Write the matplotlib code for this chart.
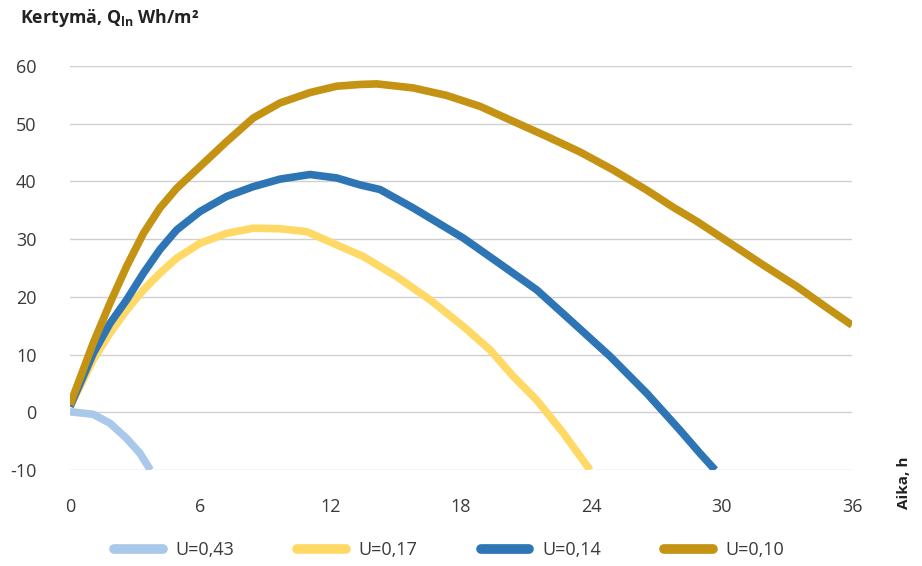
import numpy as np
import matplotlib.pyplot as plt
from matplotlib.lines import Line2D

plt.rcParams['font.family'] = ['Open Sans', 'DejaVu Sans']
plt.rcParams['mathtext.fontset'] = 'custom'
plt.rcParams['mathtext.bf'] = 'Open Sans:bold'
plt.rcParams['mathtext.rm'] = 'Open Sans'
plt.rcParams['axes.unicode_minus'] = False

# U=0,43
x_043 = [0, 1.07, 1.84, 2.6, 3.22, 3.7]
y_043 = [0.1, -0.35, -1.9, -4.5, -7.1, -10]

# U=0,17
x_017 = [0, 1.07, 1.84, 2.61, 3.38, 4.14, 4.91, 5.99, 7.21, 8.44, 9.67, 10.9,
         12.28, 13.5, 15.04, 16.57, 18.1, 19.34, 20.41, 21.49, 22.71, 23.94]
y_017 = [1.0, 9.1, 13.7, 17.7, 21.2, 24.1, 26.7, 29.3, 31.0, 31.9, 31.8, 31.3,
         29.0, 27.0, 23.5, 19.5, 14.9, 10.8, 6.2, 2.1, -3.6, -10]

# U=0,14
x_014 = [0, 1.07, 1.84, 2.61, 3.38, 4.14, 4.91, 5.99, 7.21, 8.44, 9.67, 11.05,
         12.28, 13.35, 14.27, 15.8, 18.1, 19.65, 21.49, 23.02, 24.86, 26.55,
         28.08, 29.0, 29.7]
y_014 = [1.0, 10.2, 15.4, 19.5, 24.1, 28.2, 31.6, 34.8, 37.4, 39.1, 40.4, 41.2,
         40.6, 39.4, 38.6, 35.4, 30.2, 26.1, 21.2, 16.0, 9.7, 3.3,
         -3.1, -7.1, -10]

# U=0,10
x_010 = [0, 1.07, 1.84, 2.61, 3.38, 4.14, 4.91, 5.99, 7.21, 8.44, 9.67, 11.05,
         12.28, 13.35, 14.12, 15.8, 17.34, 18.88, 20.41, 21.95, 23.48, 25.0,
         26.55, 27.78, 28.85, 30.39, 31.92, 33.46, 35.0, 36.0]
y_010 = [1.3, 12.0, 18.9, 25.3, 31.0, 35.4, 38.8, 42.6, 46.9, 51.0, 53.6, 55.4,
         56.5, 56.8, 56.9, 56.2, 54.9, 53.0, 50.4, 47.8, 45.1, 42.0,
         38.5, 35.5, 33.1, 29.3, 25.5, 21.8, 17.7, 15.1]

labels = ['U=0,43', 'U=0,17', 'U=0,14', 'U=0,10']
colors = ['#A9C8EA', '#FFD966', '#2E75B6', '#C59313']
x_ticks = [0, 6, 12, 18, 24, 30, 36]
y_ticks = [-10, 0, 10, 20, 30, 40, 50, 60]

fig = plt.figure(figsize=(9.22, 5.66), dpi=100)
ax = fig.add_axes([70 / 922, 1 - 470 / 566, 782 / 922, 404 / 566])

series = [(x_043, y_043), (x_017, y_017), (x_014, y_014), (x_010, y_010)]
for (xs, ys), c, lab in zip(series, colors, labels):
    ax.plot(xs, ys, color=c, lw=5.5, label=lab, solid_capstyle='butt',
            solid_joinstyle='round', zorder=3)

ax.set_xlim(0, 36)
ax.set_ylim(-10, 60)
ax.set_xticks(x_ticks)
ax.set_yticks(y_ticks)
ax.grid(axis='y', color='#d0d0d0', lw=1)
ax.set_axisbelow(True)
for s in ax.spines.values():
    s.set_visible(False)
ax.tick_params(length=0, labelsize=13, colors='#3a3a3a')
ax.tick_params(axis='y', pad=24)
ax.tick_params(axis='x', pad=20)

fig.text(20 / 922, 1 - 18 / 566, r'Kertymä, Q$_{\mathbf{ln}}$ Wh/m²', fontsize=12.8,
         fontweight='bold', color='#222222', va='center', ha='left')
fig.text(904 / 922, 1 - 483 / 566, 'Aika, h', fontsize=11, fontweight='bold',
         color='#222222', rotation=90, va='center', ha='center')

handles = [Line2D([0], [0], color=c, lw=7, solid_capstyle='round') for c in colors]
fig.legend(handles, labels, loc='center', bbox_to_anchor=(0.487, 1 - 550 / 566), ncol=4,
           frameon=False, fontsize=13, handlelength=2.7, columnspacing=3.5,
           handletextpad=0.7, labelcolor='#3a3a3a')

fig.savefig('out.png', dpi=100)
